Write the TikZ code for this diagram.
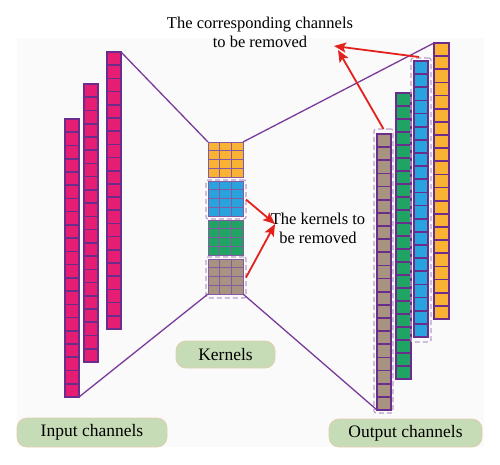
\documentclass[tikz,border=0pt]{standalone}
\usepackage{fontspec}
\setmainfont{Liberation Serif}
\usetikzlibrary{calc,arrows.meta}
\definecolor{chpurple}{HTML}{6B2D8C}
\definecolor{linepurple}{HTML}{7A3A99}
\definecolor{gridpurple}{HTML}{855AA3}
\definecolor{chmag}{HTML}{E61E73}
\definecolor{chorange}{HTML}{F9B234}
\definecolor{chblue}{HTML}{29A3DD}
\definecolor{chgreen}{HTML}{1FA463}
\definecolor{chtan}{HTML}{A89381}
\definecolor{lblfill}{HTML}{C6DCB6}
\definecolor{lbldraw}{HTML}{E2CDB0}
\definecolor{dashpurple}{HTML}{B99DCA}
\definecolor{arrred}{HTML}{E3211D}
\definecolor{bggray}{HTML}{FAFAFA}
\tikzset{
  chan/.style={draw=chpurple, line width=1.7pt, inner sep=0pt, outer sep=0pt, minimum width=14},
  kern/.style={draw=gridpurple, line width=0.9pt, inner sep=0pt, outer sep=0pt, minimum width=35, minimum height=35},
  dbox/.style={draw=dashpurple, dashed, dash pattern=on 5pt off 3pt, line width=1.1pt, rounded corners=2pt, inner sep=0pt, outer sep=0pt},
  lbl/.style={fill=lblfill, draw=lbldraw, line width=0.8pt, rounded corners=10pt, inner sep=0pt, font=\fontsize{17.5}{20}\selectfont},
  conn/.style={draw=linepurple, line width=1.3pt},
  redarr/.style={draw=arrred, line width=1.8pt, -{Stealth[length=12pt,width=10pt,inset=2.5pt]}},
  note/.style={align=center, font=\fontsize{16.5}{19}\selectfont, inner sep=0pt}
}
% grid lines inside a column node: name, number of cells - 1, style
\newcommand{\cellrows}[3]{%
  \foreach \i in {1,...,#2} {
    \pgfmathsetmacro{\t}{\i/(#2+1)}
    \draw[#3] ($(#1.north west)!\t!(#1.south west)$) -- ($(#1.north east)!\t!(#1.south east)$);
  }}
\newcommand{\kgrid}[1]{%
  \foreach \t in {0.25,0.5,0.75}
    \draw[draw=gridpurple, line width=0.9pt] ($(#1.north west)!\t!(#1.south west)$) -- ($(#1.north east)!\t!(#1.south east)$);
  \foreach \t in {0.3333,0.6667}
    \draw[draw=gridpurple, line width=0.9pt] ($(#1.north west)!\t!(#1.north east)$) -- ($(#1.south west)!\t!(#1.south east)$);
}
\begin{document}
\begin{tikzpicture}[x=1pt,y=-1pt]
\useasboundingbox (0,0) rectangle (500,465);
\fill[white] (0,0) rectangle (500,465);
\fill[bggray] (17,38) rectangle (484,447);

% input channels
\node[chan, fill=chmag, minimum height=278] (in1) at (72,258) {};
\node[chan, fill=chmag, minimum height=278] (in2) at (91,223) {};
\node[chan, fill=chmag, minimum height=277] (in3) at (114,190.5) {};
\cellrows{in1}{20}{chpurple, line width=1.6pt}
\cellrows{in2}{20}{chpurple, line width=1.6pt}
\cellrows{in3}{20}{chpurple, line width=1.6pt}

% kernels
\node[kern, fill=chorange] (kO) at (225.5,159.5) {};
\node[kern, fill=chblue] (kB) at (225.5,198.5) {};
\node[kern, fill=chgreen] (kG) at (225.5,237.5) {};
\node[kern, fill=chtan] (kT) at (225.5,276.5) {};
\kgrid{kO}\kgrid{kB}\kgrid{kG}\kgrid{kT}
\node[dbox, minimum width=40, minimum height=39] (kBbox) at (226,199.5) {};
\node[dbox, minimum width=40, minimum height=41] (kTbox) at (226,277.5) {};

% output channels
\node[chan, fill=chtan, minimum height=276] (outT) at (384,272) {};
\node[chan, fill=chgreen, minimum height=286, minimum width=15] (outG) at (403.5,236) {};
\node[chan, fill=chblue, minimum height=276] (outB) at (421,199) {};
\node[chan, fill=chorange, minimum height=276, minimum width=15] (outO) at (441.5,181) {};
\cellrows{outT}{20}{chpurple, line width=1.6pt}
\cellrows{outG}{21}{chpurple, line width=1.6pt}
\cellrows{outB}{20}{chpurple, line width=1.6pt}
\cellrows{outO}{20}{chpurple, line width=1.6pt}
\node[dbox, minimum width=19, minimum height=284] (outTbox) at (383.5,271) {};
\node[dbox, minimum width=20, minimum height=284] (outBbox) at (421,200) {};

% connectors
\draw[conn] (in3.north east) -- (kO.north west);
\draw[conn] (in1.south east) -- (kT.south west);
\draw[conn] (kO.north east) -- (outO.north west);
\draw[conn] (kT.south east) -- (outT.south west);

% notes and red arrows
\node[note] (kNote) at (318,228) {The kernels to\\be removed};
\coordinate (kTip) at (275,224);
\draw[redarr] (kBbox.east) -- (kTip);
\draw[redarr] (kTbox.east) -- (kTip);

\node[note] (cNote) at (260,32) {The corresponding channels\\to be removed};
\coordinate (cTip1) at (334,46);
\coordinate (cTip2) at (338,50);
\draw[redarr] ($(outBbox.north)+(-2,-1)$) -- (cTip1);
\draw[redarr] (outTbox.north) -- (cTip2);

% labels
\node[lbl, minimum width=150, minimum height=29] (inLbl) at (92,432.5) {Input channels};
\node[lbl, minimum width=99, minimum height=27] (kLbl) at (225.5,354.5) {Kernels};
\node[lbl, minimum width=153, minimum height=28] (outLbl) at (405.5,433) {Output channels};
\end{tikzpicture}
\end{document}
